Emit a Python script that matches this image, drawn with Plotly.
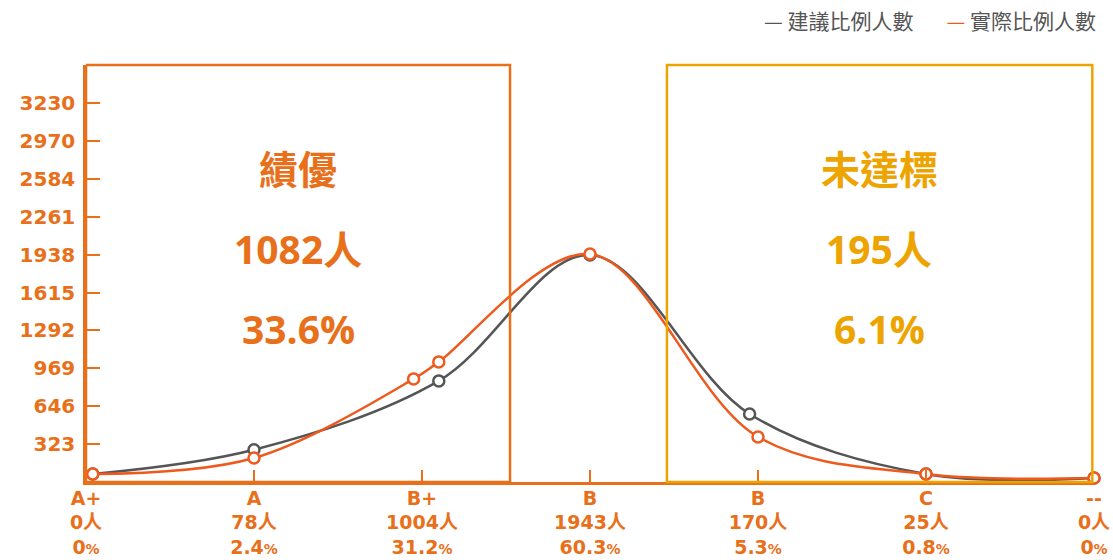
import plotly.graph_objects as go

# ---- data ----
grades = ["A+", "A", "B+", "B", "B", "C", "--"]
counts = ["0人", "78人", "1004人", "1943人", "170人", "25人", "0人"]
pcts = ["0", "2.4", "31.2", "60.3", "5.3", "0.8", "0"]

ytick_vals = [323, 646, 969, 1292, 1615, 1938, 2261, 2584, 2907, 3230]
ytick_text = ["323", "646", "969", "1292", "1615", "1938", "2261", "2584", "2970", "3230"]

suggest_x = [0.04, 1.0, 2.1, 3.0, 3.95, 5.0, 6.0]
suggest_y = [68, 275, 862, 1935, 580, 68, 34]

actual_x = [0.04, 1.0, 1.95, 2.1, 3.0, 4.0, 5.0, 6.0]
actual_y = [68, 205, 879, 1024, 1943, 384, 68, 34]

top_title, top_count, top_pct = "績優", "1082人", "33.6%"
low_title, low_count, low_pct = "未達標", "195人", "6.1%"

legend_names = ["建議比例人數", "實際比例人數"]

ORANGE = "#E8701A"
GOLD = "#EEA400"
RED = "#EE5A1E"
GRAY = "#555555"
BIGFONT = "Open Sans, Noto Sans CJK TC"
TICKFONT = "DejaVu Sans, Noto Sans CJK TC"
CJK = "Noto Sans CJK TC"

fig = go.Figure()

fig.add_trace(go.Scatter(
    x=suggest_x, y=suggest_y, mode="lines+markers", name=legend_names[0],
    line=dict(color=GRAY, width=2.5, shape="spline", smoothing=1.0),
    marker=dict(symbol="circle", size=11, color="white", line=dict(color=GRAY, width=2.5)),
    cliponaxis=False, showlegend=False))

fig.add_trace(go.Scatter(
    x=actual_x, y=actual_y, mode="lines+markers", name=legend_names[1],
    line=dict(color=RED, width=2.5, shape="spline", smoothing=1.0),
    marker=dict(symbol="circle", size=11, color="white", line=dict(color=RED, width=2.5)),
    cliponaxis=False, showlegend=False))

xticktext = [f"{g}<br>{c}<br>{p}<span style='font-size:14px'>%</span>"
             for g, c, p in zip(grades, counts, pcts)]

fig.update_xaxes(
    range=[0, 6], tickvals=list(range(7)), ticktext=xticktext, automargin=False,
    showgrid=False, zeroline=False, showline=True, linecolor=ORANGE, linewidth=2.5,
    ticks="inside", ticklen=12, tickwidth=2, tickcolor=ORANGE, ticklabelstandoff=-3,
    tickfont=dict(family=TICKFONT, size=19, color=ORANGE, weight="bold"),
)
fig.update_yaxes(
    range=[0, 3555], tickvals=ytick_vals, ticktext=ytick_text, automargin=False,
    showgrid=False, zeroline=False, showline=True, linecolor=ORANGE, linewidth=2.5,
    ticks="inside", ticklen=14, tickwidth=2, tickcolor=ORANGE, ticklabelstandoff=4,
    tickfont=dict(family=TICKFONT, size=20, color=ORANGE, weight="bold"),
)

# highlight boxes
fig.add_shape(type="rect", xref="x", yref="paper", x0=0, x1=2.524, y0=0, y1=1,
              line=dict(color=ORANGE, width=2.5), layer="above")
fig.add_shape(type="rect", xref="x", yref="paper", x0=3.458, x1=5.99, y0=0, y1=1,
              line=dict(color=GOLD, width=2.5), layer="above")

for cx, col, texts in [(1.262, ORANGE, [top_title, top_count, top_pct]),
                       (4.721, GOLD, [low_title, low_count, low_pct])]:
    for yy, t in zip([0.752, 0.561, 0.369], texts):
        fig.add_annotation(x=cx, y=yy, xref="x", yref="paper", text=t, showarrow=False,
                           font=dict(family=BIGFONT, size=39, color=col, weight="bold"),
                           xanchor="center", yanchor="middle")

# legend (as text)
fig.add_annotation(
    x=1.004, y=1.108, xref="paper", yref="paper", xanchor="right", yanchor="middle", showarrow=False,
    text=(f"<span style='color:{GRAY}'>—</span> {legend_names[0]}"
          f"&nbsp;&nbsp;&nbsp;&nbsp;&nbsp;&nbsp;&nbsp;<span style='color:{RED}'>—</span> {legend_names[1]}"),
    font=dict(family=CJK, size=21, color=GRAY))

fig.update_layout(
    width=1113, height=560,
    margin=dict(l=86, r=19, t=65, b=78, autoexpand=False),
    plot_bgcolor="white", paper_bgcolor="white",
    showlegend=False,
)

fig.write_html("out.html", config={"displayModeBar": False},
               post_script="document.body.style.margin='0';")
